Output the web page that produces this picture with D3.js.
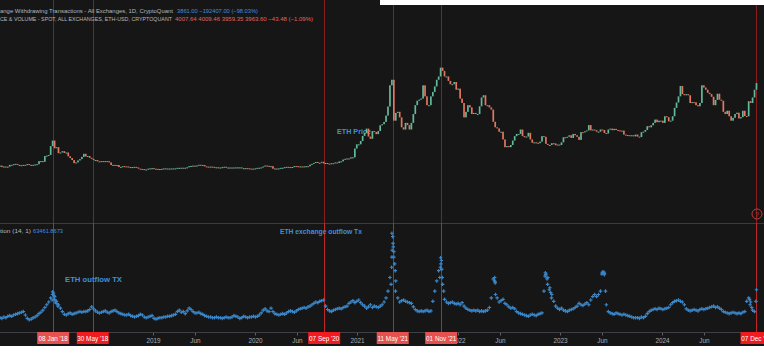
<!DOCTYPE html>
<html>
<head>
<meta charset="utf-8">
<script src="https://cdn.jsdelivr.net/npm/d3@7"></script>
<style>
  body { margin: 0; background: #fff; }
  svg { display: block; }
</style>
</head>
<body>
<div class="eth_chart"></div>
<script>
// weekly readings, first week starts 2017-07-01
var startDate = "2017-07-01";

// ETH weekly close (USD)
var price2017 = [265,200,225,200,220, 300,295,330,345, 300,250,285,300, 295,335,300,300,300, 320,330,470,470, 440,700,720,750];
var price2018 = [1150,1400,1050,1100,830, 860,920,840,860, 690,610,520,380, 410,500,560,660,800, 680,700,620,570, 520,520,460,450,
                 470,460,470,465,410, 290,300,280,290, 200,210,240,230, 225,200,200,200,210, 180,130,115,110, 85,90,130,140,150];
var price2019 = [125,120,110,110, 120,140,135,135, 135,135,140,140, 165,165,170,160,170, 190,240,250,265, 240,270,305,295,
                 290,230,220,210,220, 210,190,190,170, 180,195,215,170,180, 180,165,180,185, 185,185,150,150, 150,145,130,128,130];
var price2020 = [140,165,170,185, 225,270,255,220, 240,125,135,130,140, 165,170,195,210, 190,200,205,245, 240,230,230,225,230,
                 240,235,310,345, 390,430,390,395,440, 365,385,355,345, 375,370,410,385, 455,460,540,575,590, 585,640,640,1040];
var price2021 = [1230,1230,1380,1610, 1740,1940,1580,1480, 1830,1790,1690,1830,2090, 2140,2240,2530,2940, 3900,4150,2300,2650,2700,
                 2450,2000,1900,2200, 2100,1900,2200,2600, 3000,3200,3250,3300,3900, 3400,3000,3000,3400, 3600,3850,4150,4300,
                 4700,4550,4300,4300,4100, 3950,3950,4050,3700];
var price2022 = [3750,3300,3100,2450,2700, 3000,2900,2600,2650, 2600,2600,2950,3350, 3450,3000,3000,2900, 2800,2250,2000,1950,1800,
                 1800,1450,1100,1150, 1100,1200,1400,1600, 1700,1700,1900,1600,1550, 1580,1750,1450,1300, 1320,1300,1280,1350,1600,
                 1570,1250,1200,1200, 1280,1270,1190,1220];
var price2023 = [1200,1320,1550,1550,1570, 1640,1520,1700,1640, 1570,1430,1780,1770, 1820,1860,2100,1860, 1900,1870,1800,1800,1900,
                 1880,1740,1720,1900, 1940,1870,1930,1880,1860, 1830,1850,1670,1650, 1640,1630,1640,1590, 1670,1580,1560,1780,1800,
                 1880,2050,2000,2090, 2200,2350,2230,2300];
var price2024 = [2300,2200,2500,2460,2270, 2300,2500,2880,3120, 3400,3870,3500,3450, 3500,3450,3100,3140,3130, 3000,2950,3100,3900,
                 3800,3700,3560,3500, 3380,3000,3240,3520,3250, 3200,2700,2600,2750, 2500,2300,2430,2600,2660, 2400,2460,2750,2510,
                 2500,3180,3100,3350, 3700,4000];

// exchange withdrawing transactions, thousands per day (weekly reading)
var outflow2017 = [21,20,22,21,23, 24,23,25,26, 27,28,29,30, 25,20,18,19,21, 22,24,27,29, 32,36,40,44];
var outflow2018 = [50,59,52,45,40, 35,30,26,25, 27,28,26,27, 28,29,30,29,30, 30,31,33,37, 34,31,29,28,
                   29,30,31,29,28, 30,31,32,30, 28,27,26,25, 25,26,24,23,22, 23,24,26,25, 22,21,22,23,24];
var outflow2019 = [20,19,20,21, 21,22,22,23, 23,24,25,26, 30,32,29,30,27, 31,35,33,30, 28,28,29,27,
                   26,24,23,22,22, 21,21,22,21, 21,20,21,22,21, 21,22,24,23, 22,20,21,23, 22,21,22,22,23];
var outflow2020 = [22,23,25,28, 32,34,31,30, 35,30,27,26,25, 26,27,26,28, 30,31,30,29, 31,33,34,35,36,
                   35,37,38,40, 42,44,43,45,46, 47,38,33,31, 30,32,33,34, 35,34,36,37,38, 42,44,46,43];
var outflow2021 = [45,47,43,40, 38,35,37,40, 36,38,37,36,38, 40,44,50,60, 80,145,110,75,50,
                   44,46,47,45, 44,43,42,37, 33,31,30,31,30, 31,32,30,31, 45,60,75,90, 109,70,48,44,42, 43,44,42,41];
var outflow2022 = [42,40,43,38,35, 33,32,31,32, 31,32,30,31, 30,31,32,36, 50,78,72,50,44,
                   46,48,42,40, 37,35,36,34, 30,28,27,26,25, 24,23,25,26, 25,24,26,27,28, 60,85,80,65, 55,45,38,35];
var outflow2023 = [33,35,32,31,30, 32,33,34,36, 38,42,40,39, 41,43,40,47, 52,55,52,55,60,
                   88,86,40,30, 28,27,26,28,27, 26,25,26,25, 24,23,22,21, 21,21,20,22,21, 23,27,30,32, 33,34,33,35];
var outflow2024 = [34,33,34,35,36, 40,43,45,46, 47,45,44,40, 34,32,31,32,33, 32,31,33,34,
                   33,34,35,36, 37,38,36,37,35, 33,30,29,28, 27,28,29,28,27, 28,27,29,30, 45,50,44,32, 30,62];

// extra daily readings around the outflow spikes
var spikeDates = ["2018-01-04","2018-01-06","2018-01-09","2018-01-11","2018-01-13","2018-01-16","2018-01-19","2018-01-25",
                  "2021-05-05","2021-05-07","2021-05-08","2021-05-09","2021-05-11","2021-05-12","2021-05-13","2021-05-15","2021-05-18","2021-05-20","2021-05-21",
                  "2021-10-27","2021-10-29","2021-10-31","2021-11-02","2021-11-03","2021-11-05","2021-11-10",
                  "2022-05-11","2022-05-12","2022-05-13","2022-05-15",
                  "2022-11-09","2022-11-10","2022-11-11","2022-11-16","2022-11-18","2022-11-24","2022-11-29","2022-12-02",
                  "2023-06-01","2023-06-03","2023-06-08","2023-06-10","2023-06-14",
                  "2024-11-12","2024-11-14","2024-11-20","2024-12-05"];
var spikeValues = [47,55,57,53,48,44,42,38,
                   70,95,110,120,140,130,125,118,100,90,60,
                   80,95,100,105,92,80,60,
                   76,80,74,55,
                   82,87,84,78,70,62,58,50,
                   85,87,88,84,60,
                   48,40,36,45];

// marked dates
var eventDates = ["2018-01-08","2018-05-30","2020-09-07","2021-05-11","2021-11-01","2024-12-07"];
var eventLabels = ["08 Jan '18","30 May '18","07 Sep '20","11 May '21","01 Nov '21","07 Dec '24"];

// time axis ticks that are not hidden under the marked dates
var tickDates = ["2019-01-01","2019-06-01","2020-01-01","2020-06-01","2021-01-01",
                 "2022-01-01","2022-06-01","2023-01-01","2023-06-01","2024-01-01","2024-06-01"];
var tickLabels = ["2019","Jun","2020","Jun","2021","2022","Jun","2023","Jun","2024","Jun"];

var priceClose = [].concat(price2017, price2018, price2019, price2020, price2021, price2022, price2023, price2024);
var outflow = [].concat(outflow2017, outflow2018, outflow2019, outflow2020, outflow2021, outflow2022, outflow2023, outflow2024);

var parse = d3.timeParse("%Y-%m-%d");
var start = parse(startDate);
function weekDate(i) { return d3.timeDay.offset(start, i * 7); }

var width = 764, height = 364;
var font = "'Liberation Sans', Arial, sans-serif";

// set the ranges
var x = d3.scaleTime()
    .domain([parse("2017-07-01"), parse("2025-01-03")])
    .range([0, width]);
var yPrice = d3.scaleLinear().domain([0, 5000]).range([171.5, 61]);
var yOut = d3.scaleLinear().domain([0, 160]).range([332, 223]);

var svg = d3.select(".eth_chart").append("svg")
    .attr("width", width)
    .attr("height", height);

// background
svg.append("rect").attr("width", width).attr("height", height).attr("fill", "#ffffff");
svg.append("rect").attr("x", 0).attr("y", 0).attr("width", width).attr("height", 346).attr("fill", "#161617");

// panel separator and time axis line
svg.append("line").attr("x1", 0).attr("x2", width).attr("y1", 223.5).attr("y2", 223.5)
    .attr("stroke", "#3b3c41").attr("stroke-width", 1);
svg.append("line").attr("x1", 0).attr("x2", width).attr("y1", 332.5).attr("y2", 332.5)
    .attr("stroke", "#3f4046").attr("stroke-width", 1);

// vertical event lines
var ev = svg.append("g");
eventDates.forEach(function(d) {
  var xx = Math.round(x(parse(d))) + 0.5;
  ev.append("line").attr("x1", xx).attr("x2", xx).attr("y1", 0).attr("y2", 223)
    .attr("stroke", "#8a1d1d").attr("stroke-width", 1);
  ev.append("line").attr("x1", xx).attr("x2", xx).attr("y1", 223).attr("y2", 332)
    .attr("stroke", "#bd2727").attr("stroke-width", 1);
});

// top white strip on the right
svg.append("rect").attr("x", 380).attr("y", 0).attr("width", width - 380).attr("height", 5).attr("fill", "#ffffff");

// label behind the candles
svg.append("text")
    .attr("x", 337).attr("y", 133.5)
    .attr("font-family", font).attr("font-size", "7.2px").attr("font-weight", "bold")
    .attr("fill", "#3f8fd8")
    .text("ETH Price");

// price candles (open = previous close)
svg.append("g").selectAll("rect")
    .data(priceClose)
  .enter().append("rect")
    .attr("x", function(d, i) { return x(weekDate(i)) - 0.85; })
    .attr("width", 1.7)
    .attr("y", function(d, i) {
      var o = i > 0 ? priceClose[i - 1] : d;
      return Math.min(yPrice(o), yPrice(d));
    })
    .attr("height", function(d, i) {
      var o = i > 0 ? priceClose[i - 1] : d;
      return Math.max(1, Math.abs(yPrice(o) - yPrice(d)));
    })
    .attr("fill", function(d, i) {
      var o = i > 0 ? priceClose[i - 1] : d;
      return d >= o ? "#63b99a" : "#e3775f";
    });

// outflow scatter
var cross = d3.symbol().type(d3.symbolCross).size(7);
var dots = svg.append("g").attr("fill", "#3a86c8");
dots.selectAll(".w")
    .data(outflow)
  .enter().append("path")
    .attr("class", "w")
    .attr("d", cross)
    .attr("transform", function(d, i) { return "translate(" + x(weekDate(i)) + "," + yOut(d) + ")"; });
dots.selectAll(".s")
    .data(spikeValues)
  .enter().append("path")
    .attr("class", "s")
    .attr("d", cross)
    .attr("transform", function(d, i) { return "translate(" + x(parse(spikeDates[i])) + "," + yOut(d) + ")"; });

// header texts
svg.append("text").attr("x", 0).attr("y", 13)
    .attr("font-family", font).attr("font-size", "5.8px").attr("fill", "#b4b6bd")
    .attr("textLength", 173).attr("lengthAdjust", "spacingAndGlyphs")
    .text("ange Withdrawing Transactions - All Exchanges, 1D, CryptoQuant");
svg.append("text").attr("x", 177).attr("y", 13)
    .attr("font-family", font).attr("font-size", "5.8px").attr("fill", "#3d8fe0")
    .attr("textLength", 81).attr("lengthAdjust", "spacingAndGlyphs")
    .text("3861.00  \u2212192407.00 (\u221298.03%)");
svg.append("text").attr("x", 0).attr("y", 21.3)
    .attr("font-family", font).attr("font-size", "5.8px").attr("fill", "#b4b6bd")
    .attr("textLength", 172).attr("lengthAdjust", "spacingAndGlyphs")
    .text("CE & VOLUME - SPOT, ALL EXCHANGES, ETH-USD, CRYPTOQUANT");
svg.append("text").attr("x", 175).attr("y", 21.3)
    .attr("font-family", font).attr("font-size", "5.8px").attr("fill", "#e8605a")
    .attr("textLength", 138).attr("lengthAdjust", "spacingAndGlyphs")
    .text("4007.64  4009.46  3959.35  3963.60  \u221243.48 (\u22121.09%)");

svg.append("text").attr("x", 0).attr("y", 233.3)
    .attr("font-family", font).attr("font-size", "5.8px").attr("fill", "#b4b6bd")
    .attr("textLength", 31).attr("lengthAdjust", "spacingAndGlyphs")
    .text("tion (14, 1)");
svg.append("text").attr("x", 33).attr("y", 233.3)
    .attr("font-family", font).attr("font-size", "5.8px").attr("fill", "#3d8fe0")
    .attr("textLength", 30).attr("lengthAdjust", "spacingAndGlyphs")
    .text("63461.8673");

svg.append("text").attr("x", 280).attr("y", 233.5)
    .attr("font-family", font).attr("font-size", "6.8px").attr("font-weight", "bold").attr("fill", "#3f8fd8")
    .attr("textLength", 82).attr("lengthAdjust", "spacingAndGlyphs")
    .text("ETH exchange outflow Tx");
svg.append("text").attr("x", 65).attr("y", 281.5)
    .attr("font-family", font).attr("font-size", "7.2px").attr("font-weight", "bold").attr("fill", "#3f8fd8")
    .attr("textLength", 57).attr("lengthAdjust", "spacingAndGlyphs")
    .text("ETH outflow TX");

// event marker on the last line
var mx = x(parse(eventDates[eventDates.length - 1]));
svg.append("circle").attr("cx", mx + 0.5).attr("cy", 214).attr("r", 5)
    .attr("fill", "none").attr("stroke", "#c23a3a").attr("stroke-width", 1);
svg.append("text").attr("x", mx + 0.5).attr("y", 216.5).attr("text-anchor", "middle")
    .attr("font-family", font).attr("font-size", "7px").attr("fill", "#c23a3a")
    .text("?");

// time axis
var ticks = svg.append("g");
tickDates.forEach(function(d, i) {
  var xx = Math.round(x(parse(d))) + 0.5;
  ticks.append("line").attr("x1", xx).attr("x2", xx).attr("y1", 333).attr("y2", 335.5)
    .attr("stroke", "#5c5e65").attr("stroke-width", 1);
  ticks.append("text").attr("x", xx).attr("y", 342.5).attr("text-anchor", "middle")
    .attr("font-family", font).attr("font-size", "6.4px").attr("fill", "#a9acb4")
    .text(tickLabels[i]);
});

// event labels on the axis
var boxes = svg.append("g");
eventDates.forEach(function(d, i) {
  var xx = x(parse(d));
  var soft = (i === 0 || i === 3 || i === 4);
  boxes.append("rect").attr("x", xx - 16).attr("y", 332).attr("width", 32).attr("height", 12)
    .attr("fill", soft ? "#e5514f" : "#f01b1e");
  boxes.append("text").attr("x", xx).attr("y", 340.6).attr("text-anchor", "middle")
    .attr("font-family", font).attr("font-size", "6.4px").attr("fill", "#ffffff")
    .text(eventLabels[i]);
});
</script>
</body>
</html>
